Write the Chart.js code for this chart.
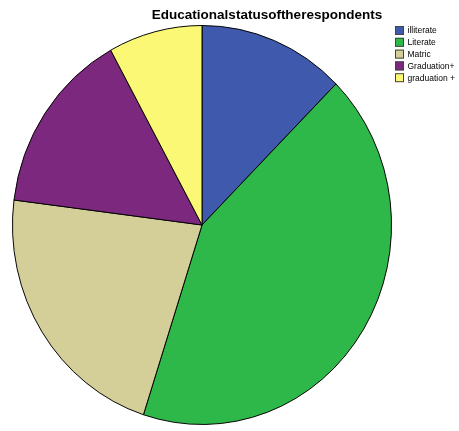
<!DOCTYPE html>
<html>
<head>
<meta charset="utf-8">
<script src="https://cdn.jsdelivr.net/npm/chart.js@4"></script>
<style>
  html, body { margin: 0; padding: 0; background: #fff; }
  #wrap { width: 459px; height: 431px; }
</style>
</head>
<body>
<div id="wrap"><canvas id="pieChart" width="459" height="431"></canvas></div>
<script>
const labels = ["illiterate", "Literate", "Matric", "Graduation+", "graduation +"];
const percents = [12.5, 42.5, 22, 15, 8];
const colors = ["#3f59ad", "#2eb84a", "#d4cf99", "#7c287f", "#fbf876"];

// the original pie is a bit narrower than it is tall
const squeeze = {
  id: "squeeze",
  beforeDatasetsDraw(chart) {
    const a = chart.chartArea;
    const cx = (a.left + a.right) / 2, cy = (a.top + a.bottom) / 2;
    chart.ctx.save();
    chart.ctx.translate(cx, cy);
    chart.ctx.scale(0.95, 1);
    chart.ctx.translate(-cx, -cy);
  },
  afterDatasetsDraw(chart) {
    chart.ctx.restore();
  }
};

// title + legend drawn by hand to match the SPSS layout
const decor = {
  id: "decor",
  afterDraw(chart) {
    const ctx = chart.ctx;
    ctx.save();
    ctx.fillStyle = "#000";
    ctx.font = "bold 13.5px 'Liberation Sans', Arial, sans-serif";
    ctx.textAlign = "center";
    ctx.textBaseline = "alphabetic";
    ctx.fillText("Educationalstatusoftherespondents", 267, 19);

    ctx.font = "8.5px 'Liberation Sans', Arial, sans-serif";
    ctx.textAlign = "left";
    ctx.textBaseline = "middle";
    labels.forEach((lab, i) => {
      const y = 30.5 + i * 11.8;
      ctx.fillStyle = colors[i];
      ctx.fillRect(395, y - 4.5, 9, 9);
      ctx.strokeStyle = "#444";
      ctx.lineWidth = 1;
      ctx.strokeRect(395.5, y - 4, 8, 8);
      ctx.fillStyle = "#000";
      ctx.fillText(lab, 407.5, y + 0.5);
    });
    ctx.restore();
  }
};

new Chart(document.getElementById("pieChart"), {
  type: "pie",
  data: {
    labels,
    datasets: [{
      data: percents,
      backgroundColor: colors,
      borderColor: "#000",
      borderWidth: 1
    }]
  },
  options: {
    responsive: false,
    animation: false,
    layout: { padding: { left: 2, right: 57, top: 24, bottom: 5 } },
    plugins: {
      legend: { display: false },
      title: { display: false },
      tooltip: { enabled: false }
    }
  },
  plugins: [squeeze, decor]
});
</script>
</body>
</html>
